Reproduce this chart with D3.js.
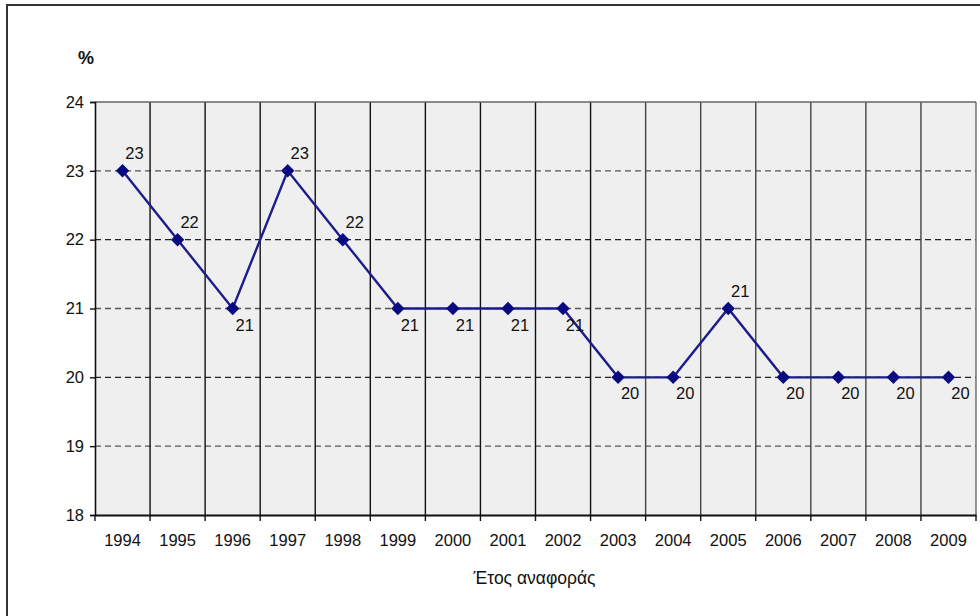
<!DOCTYPE html>
<html><head><meta charset="utf-8">
<script src="https://cdn.jsdelivr.net/npm/d3@7"></script>
<style>
html,body{margin:0;padding:0;background:#fff;}
svg{display:block;font-family:"Liberation Sans",Arial,sans-serif;}
</style></head>
<body>
<svg id="chart" width="980" height="616"></svg>
<script>
const years = ["1994","1995","1996","1997","1998","1999","2000","2001","2002","2003","2004","2005","2006","2007","2008","2009"];
const values = [23,22,21,23,22,21,21,21,21,20,20,21,20,20,20,20];
const labelAbove = [true,true,false,true,true,false,false,false,false,false,false,true,false,false,false,false];
const yTicks = [18,19,20,21,22,23,24];
const xTitle = "Έτος αναφοράς";
const yTitle = "%";

(function(){
const svg = d3.select("#chart");
const pL = 95, pR = 976, pT = 102, pB = 515;
const FONT = "Liberation Sans, Arial, sans-serif";

// outer frame
svg.append("rect").attr("x",7).attr("y",5).attr("width",990).attr("height",640)
  .attr("fill","none").attr("stroke","#333").attr("stroke-width",2);

const x = d3.scaleBand().domain(years).range([pL,pR]).padding(0);
const y = d3.scaleLinear().domain([18,24]).range([pB,pT]);

// plot background
svg.append("rect").attr("x",pL).attr("y",pT).attr("width",pR-pL).attr("height",pB-pT)
  .attr("fill","#efefef");

// horizontal dashed grid
svg.append("g").selectAll("line").data(yTicks.filter(d=>d>18 && d<24)).join("line")
  .attr("x1",pL).attr("x2",pR).attr("y1",d=>y(d)).attr("y2",d=>y(d))
  .attr("stroke",d=> (d===20||d===22)?"#222":"#555").attr("stroke-width",1.4)
  .attr("stroke-dasharray","6,4");

// vertical lines at category boundaries
const bounds = years.slice(1).map(d=>x(d));
svg.append("g").selectAll("line").data(bounds).join("line")
  .attr("x1",d=>d).attr("x2",d=>d).attr("y1",pT).attr("y2",pB)
  .attr("stroke",(d,i)=> i<9 ? "#111" : "#444").attr("stroke-width",1.4);

// plot border top/right
svg.append("line").attr("x1",pL).attr("x2",pR).attr("y1",pT).attr("y2",pT).attr("stroke","#666").attr("stroke-width",1.4);
svg.append("line").attr("x1",pR).attr("x2",pR).attr("y1",pT).attr("y2",pB).attr("stroke","#666").attr("stroke-width",1.4);

// y axis
const yAxis = d3.axisLeft(y).tickValues(yTicks).tickSize(5).tickPadding(6).tickFormat(d3.format("d"));
const gy = svg.append("g").attr("transform",`translate(${pL},0)`).call(yAxis);
gy.select(".domain").attr("stroke","#111").attr("stroke-width",1.6);
gy.selectAll(".tick line").attr("stroke","#111").attr("stroke-width",1.4);
gy.selectAll(".tick text").attr("font-size",16.5).attr("fill","#111").attr("font-family",FONT);

// x axis
const xAxis = d3.axisBottom(x).tickSize(0).tickPadding(19);
const gx = svg.append("g").attr("transform",`translate(0,${pB})`).call(xAxis);
gx.select(".domain").attr("stroke","#111").attr("stroke-width",2.2);
gx.selectAll(".tick text").attr("font-size",16.5).attr("fill","#111").attr("font-family",FONT);
// boundary ticks
svg.append("g").selectAll("line").data(years.map(d=>x(d)).concat([pR])).join("line")
  .attr("x1",d=>d).attr("x2",d=>d).attr("y1",pB).attr("y2",pB+6)
  .attr("stroke","#111").attr("stroke-width",1.4);

// line
const cx = d=>x(d)+x.bandwidth()/2;
const line = d3.line().x((d,i)=>cx(years[i])).y(d=>y(d));
svg.append("path").datum(values).attr("d",line).attr("fill","none")
  .attr("stroke","#1c1c8c").attr("stroke-width",2.4);

// markers
svg.append("g").selectAll("path").data(values).join("path")
  .attr("d",d3.symbol().type(d3.symbolDiamond2).size(115))
  .attr("transform",(d,i)=>`translate(${cx(years[i])},${y(d)})`)
  .attr("fill","#0a0a80");

// data labels
svg.append("g").selectAll("text").data(values).join("text")
  .attr("x",(d,i)=>cx(years[i])+12)
  .attr("y",(d,i)=>y(d)+(labelAbove[i]?-12:22))
  .attr("text-anchor","middle").attr("font-size",16.5).attr("fill","#111")
  .attr("font-family",FONT)
  .text(d=>d);

// titles
svg.append("text").attr("x",(pL+pR)/2 - 1).attr("y",584).attr("text-anchor","middle")
  .attr("font-size",17.5).attr("fill","#111").attr("font-family",FONT).text(xTitle);
svg.append("text").attr("x",86).attr("y",64).attr("text-anchor","middle")
  .attr("font-size",18).attr("font-weight","bold").attr("fill","#111").attr("font-family",FONT).text(yTitle);
})();
</script>
</body></html>
